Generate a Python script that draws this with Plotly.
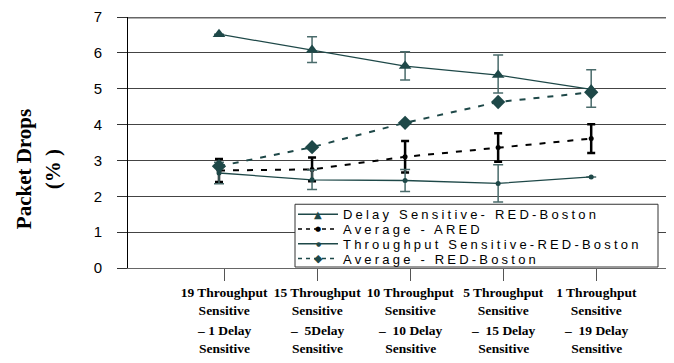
import plotly.graph_objects as go

# ---------------- data ----------------
top_labels = ["19 Throughput<br>Sensitive", "15 Throughput<br>Sensitive", "10 Throughput<br>Sensitive",
              "5 Throughput<br>Sensitive", "1 Throughput<br>Sensitive"]
bottom_labels = ["– 1 Delay<br>Sensitive", "– \u00a05Delay<br>Sensitive", "– \u00a010 Delay<br>Sensitive",
                 "– \u00a015 Delay<br>Sensitive", "– \u00a019 Delay<br>Sensitive"]
y_ticks = [0, 1, 2, 3, 4, 5, 6, 7]

delay_red = [6.52, 6.08, 5.63, 5.38, 4.98]
delay_red_err_plus = [0.0, 0.37, 0.40, 0.56, 0.55]
delay_red_err_minus = [0.0, 0.35, 0.39, 0.50, 0.50]

avg_ared = [2.72, 2.75, 3.10, 3.36, 3.61]
avg_ared_err = [0.32, 0.33, 0.44, 0.40, 0.40]

thr_red = [2.65, 2.46, 2.44, 2.36, 2.54]
thr_red_err = [0.30, 0.27, 0.31, 0.52, 0.0]

avg_red = [2.84, 3.37, 4.05, 4.63, 4.90]

names = ["Delay Sensitive- RED-Boston", "Average - ARED",
         "Throughput Sensitive-RED-Boston", "Average - RED-Boston"]

# ---------------- style ----------------
TEAL = "#1e4848"
TEAL_ERR = "#4a6b6b"
TICK_SHIFT = 0.055
xs = list(range(len(top_labels)))
tickpos = [x + TICK_SHIFT for x in xs]

# page body has an 8px margin: the figure is sized so the plot fills the window
W, H = 666, 355
ML, MR, MT, MB = 120, 0, 6, 95
PLOT_W = W - ML - MR
PLOT_H = H - MT - MB
OFF = 8


def px_x(px):
    return (px - OFF - ML) / PLOT_W


def px_y(py):
    return (H - MB - (py - OFF)) / PLOT_H


fig = go.Figure()

fig.add_trace(go.Scatter(
    x=xs, y=delay_red, name=names[0], mode="lines+markers",
    line=dict(color=TEAL, width=1.3),
    marker=dict(symbol="triangle-up", size=11, color=TEAL),
    error_y=dict(type="data", symmetric=False, array=delay_red_err_plus,
                 arrayminus=delay_red_err_minus, color=TEAL_ERR, thickness=1.5, width=5),
))
fig.add_trace(go.Scatter(
    x=xs, y=avg_ared, name=names[1], mode="lines+markers",
    line=dict(color="black", width=2, dash="6px,8px"),
    marker=dict(symbol="circle", size=5, color="black"),
    error_y=dict(type="data", array=avg_ared_err, color="black", thickness=2.5, width=4),
))
fig.add_trace(go.Scatter(
    x=xs, y=thr_red, name=names[2], mode="lines+markers",
    line=dict(color=TEAL, width=1.3),
    marker=dict(symbol="circle", size=5, color=TEAL),
    error_y=dict(type="data", array=thr_red_err, color=TEAL_ERR, thickness=1.5, width=5),
))
fig.add_trace(go.Scatter(
    x=xs, y=avg_red, name=names[3], mode="lines+markers",
    line=dict(color=TEAL, width=2, dash="6px,8px"),
    marker=dict(symbol="diamond", size=11, color=TEAL),
))

# top border line of the plot area (gridline at the top value), drawn just inside the edge
fig.add_shape(type="line", xref="paper", yref="paper", x0=0, x1=1,
              y0=px_y(14.8), y1=px_y(14.8),
              layer="above", line=dict(color="#666", width=1.5))

# lower part of the category labels
for xp, lab in zip(tickpos, bottom_labels):
    fig.add_annotation(x=xp, xref="x", y=0, yref="paper", yanchor="top", yshift=-53,
                       text=lab, showarrow=False,
                       font=dict(family="Liberation Serif", size=13.5, color="black", weight="bold"))

# y-axis title (two lines)
for txt, shift in [("Packet Drops", -104), ("(% )", -75)]:
    fig.add_annotation(x=0, xref="paper", xshift=shift, xanchor="center",
                       y=px_y(168), yref="paper", yanchor="middle",
                       text=txt, textangle=-90, showarrow=False,
                       font=dict(family="Liberation Serif", size=21, color="black", weight="bold"))

# ---------------- legend box ----------------
fig.add_shape(type="rect", xref="paper", yref="paper", layer="above",
              x0=px_x(295), x1=px_x(658), y0=px_y(267), y1=px_y(203.5),
              fillcolor="white", line=dict(color="#333", width=1))
leg_rows = [213.5, 228.5, 243.5, 258.5]
leg_dash = ["solid", "4px,4px", "solid", "4px,4px"]
leg_color = [TEAL, "black", TEAL, TEAL]
leg_glyph = ["▲", "●", "●", "◆"]
leg_gsize = [10, 7, 6, 11]
for name, row, dash, col, gl, gs in zip(names, leg_rows, leg_dash, leg_color, leg_glyph, leg_gsize):
    fig.add_shape(type="line", xref="paper", yref="paper", layer="above",
                  x0=px_x(298), x1=px_x(338), y0=px_y(row), y1=px_y(row),
                  line=dict(color=col, width=1.5, dash=dash))
    fig.add_annotation(x=px_x(318), xref="paper", y=px_y(row), yref="paper",
                       xanchor="center", yanchor="middle", text=gl, showarrow=False,
                       borderpad=0, font=dict(family="DejaVu Sans", size=gs, color=col))
    fig.add_annotation(x=px_x(342), xref="paper", y=px_y(row + 0.5), yref="paper",
                       xanchor="left", yanchor="middle", showarrow=False, borderpad=0,
                       text='<span style="letter-spacing:3.2px">' + name + '</span>',
                       font=dict(family="Liberation Sans", size=13, color="black"))

fig.update_layout(
    width=W, height=H,
    margin=dict(l=ML, r=MR, t=MT, b=MB),
    paper_bgcolor="white", plot_bgcolor="white",
    showlegend=False,
    xaxis=dict(range=[-0.978, 4.89], tickvals=tickpos, ticktext=top_labels,
               showgrid=False, zeroline=False, showline=True,
               linecolor="#666", linewidth=1,
               ticks="outside", ticklen=12, tickcolor="#555",
               tickfont=dict(family="Liberation Serif", size=13.5, color="black", weight="bold")),
    yaxis=dict(range=[0, 7], tickvals=y_ticks, showgrid=True, gridcolor="#444", gridwidth=1,
               zeroline=False, showline=True, linecolor="black", linewidth=1,
               ticks="outside", ticklen=10, tickcolor="#333", ticklabelstandoff=12,
               ticklabeloverflow="allow",
               tickfont=dict(family="Liberation Sans", size=15, color="black")),
)

fig.write_html("out.html", config={"displayModeBar": False})
